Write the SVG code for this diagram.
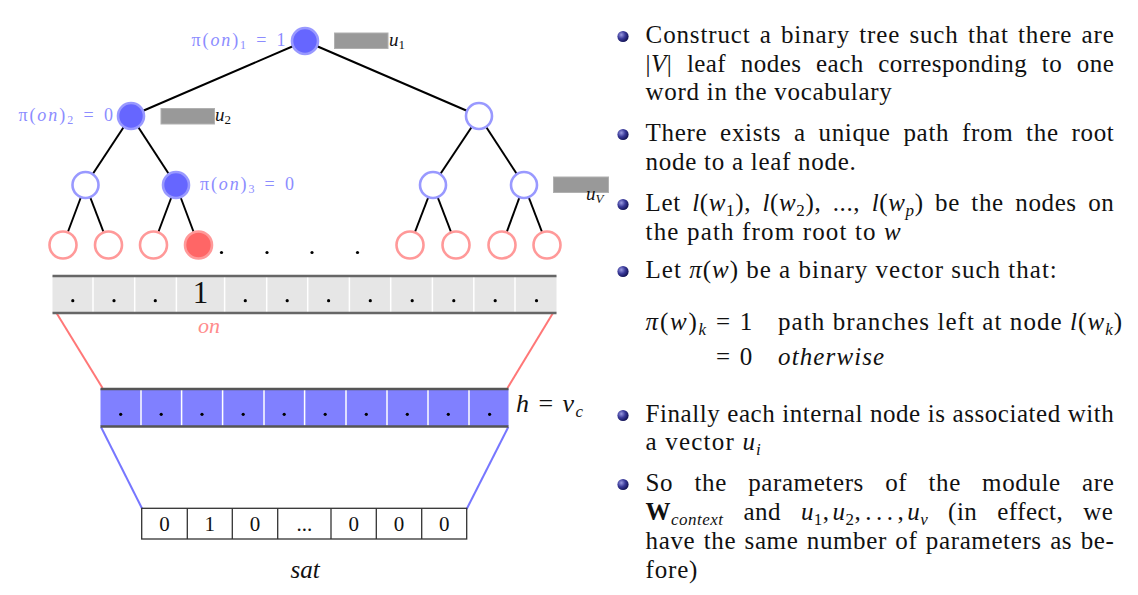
<svg xmlns="http://www.w3.org/2000/svg" width="1138" height="595" viewBox="0 0 1138 595">
<defs>
<radialGradient id="ball" cx="0.35" cy="0.35" r="0.7">
<stop offset="0" stop-color="#9a9ae0"/>
<stop offset="0.5" stop-color="#3a3a9a"/>
<stop offset="1" stop-color="#101050"/>
</radialGradient>
<style>
.edge{stroke:#000;stroke-width:2;fill:none}
.in{fill:#fff;stroke:#9999ff;stroke-width:2.6}
.inf{fill:#6666ff;stroke:#9999ff;stroke-width:2.6}
.leaf{fill:#fff;stroke:#ff9999;stroke-width:2.6}
.leaff{fill:#ff6666;stroke:#ff9999;stroke-width:2.6}
.ubox{fill:#999;stroke:#b0b0b0;stroke-width:1}
.lbl{font-family:"Liberation Serif",serif;font-size:18px;fill:#8c8cff;word-spacing:2px}
.ul{font-family:"Liberation Serif",serif;font-size:19px;fill:#111}
.us{font-size:13px}
.i{font-style:italic}
.b{font-weight:bold}
.dot{fill:#000}
.body{font-family:"Liberation Serif",serif;font-size:25px;fill:#111;letter-spacing:0.8px}
.sub{font-size:17px}
.cell{font-family:"Liberation Serif",serif;font-size:21px;fill:#111;text-anchor:middle}
.bullet{fill:url(#ball)}
</style>
</defs>

<g id="connectors">
<line class="edge" x1="305" y1="41" x2="131" y2="116"/>
<line class="edge" x1="305" y1="41" x2="479" y2="116"/>
<line class="edge" x1="131" y1="116" x2="85.5" y2="185"/>
<line class="edge" x1="131" y1="116" x2="176" y2="185"/>
<line class="edge" x1="479" y1="116" x2="433" y2="185"/>
<line class="edge" x1="479" y1="116" x2="524" y2="185"/>
<line class="edge" x1="85.5" y1="185" x2="63" y2="245"/>
<line class="edge" x1="85.5" y1="185" x2="108.5" y2="245"/>
<line class="edge" x1="176" y1="185" x2="153.5" y2="245"/>
<line class="edge" x1="176" y1="185" x2="198.5" y2="245"/>
<line class="edge" x1="433" y1="185" x2="410" y2="245"/>
<line class="edge" x1="433" y1="185" x2="456" y2="245"/>
<line class="edge" x1="524" y1="185" x2="502" y2="245"/>
<line class="edge" x1="524" y1="185" x2="547" y2="245"/>
<line x1="56.5" y1="313" x2="102.5" y2="388" stroke="#ff7777" stroke-width="2"/>
<line x1="553" y1="313" x2="507.5" y2="388" stroke="#ff7777" stroke-width="2"/>
<line x1="101" y1="427" x2="142.3" y2="509" stroke="#7777ff" stroke-width="2"/>
<line x1="508.3" y1="427" x2="466.7" y2="509" stroke="#7777ff" stroke-width="2"/>
</g>

<g id="root">
<circle class="inf" cx="305" cy="41" r="13"/>
<text class="lbl" x="191.6" y="46" textLength="94" lengthAdjust="spacing">π(<tspan class="i">on</tspan>)<tspan font-size="12" dy="3">1</tspan><tspan dy="-3"> = 1</tspan></text>
<rect class="ubox" x="334.5" y="33" width="53.5" height="15.5"/>
<text class="ul" x="389" y="46"><tspan class="i">u</tspan><tspan class="us" dy="3">1</tspan></text>
</g>

<g id="n2l">
<circle class="inf" cx="131" cy="116" r="13"/>
<text class="lbl" x="18.4" y="121" textLength="94.6" lengthAdjust="spacing">π(<tspan class="i">on</tspan>)<tspan font-size="12" dy="3">2</tspan><tspan dy="-3"> = 0</tspan></text>
<rect class="ubox" x="161" y="108.5" width="53.5" height="15.5"/>
<text class="ul" x="215" y="121"><tspan class="i">u</tspan><tspan class="us" dy="3">2</tspan></text>
</g>
<g id="n2r"><circle class="in" cx="479" cy="116" r="13"/></g>

<g id="n3a"><circle class="in" cx="85.5" cy="185" r="13"/></g>
<g id="n3b">
<circle class="inf" cx="176" cy="185" r="13"/>
<text class="lbl" x="200" y="190" textLength="94" lengthAdjust="spacing">π(<tspan class="i">on</tspan>)<tspan font-size="12" dy="3">3</tspan><tspan dy="-3"> = 0</tspan></text>
</g>
<g id="n3c"><circle class="in" cx="433" cy="185" r="13"/></g>
<g id="n3d">
<circle class="in" cx="524" cy="185" r="13"/>
<rect class="ubox" x="553.5" y="177" width="55" height="15.5"/>
<text class="ul" x="586" y="200"><tspan class="i">u</tspan><tspan class="us i" dy="3">V</tspan></text>
</g>

<g id="leaves">
<circle class="leaf" cx="63" cy="245" r="13.5"/>
<circle class="leaf" cx="108.5" cy="245" r="13.5"/>
<circle class="leaf" cx="153.5" cy="245" r="13.5"/>
<circle class="leaff" cx="198.5" cy="245" r="13.5"/>
<circle class="leaf" cx="410" cy="245" r="13.5"/>
<circle class="leaf" cx="456" cy="245" r="13.5"/>
<circle class="leaf" cx="502" cy="245" r="13.5"/>
<circle class="leaf" cx="547" cy="245" r="13.5"/>
<circle class="dot" cx="221.5" cy="252.5" r="1.6"/>
<circle class="dot" cx="267" cy="252.5" r="1.6"/>
<circle class="dot" cx="312" cy="252.5" r="1.6"/>
<circle class="dot" cx="357.5" cy="252.5" r="1.6"/>
</g>

<g id="onehot-output">
<rect x="52.5" y="276" width="504" height="37" fill="#e6e6e6"/>
<g stroke="#fff" stroke-width="1.5">
<line x1="93" y1="277" x2="93" y2="312"/><line x1="134.7" y1="277" x2="134.7" y2="312"/>
<line x1="176.4" y1="277" x2="176.4" y2="312"/><line x1="224.6" y1="277" x2="224.6" y2="312"/>
<line x1="266.7" y1="277" x2="266.7" y2="312"/><line x1="307.7" y1="277" x2="307.7" y2="312"/>
<line x1="349.4" y1="277" x2="349.4" y2="312"/><line x1="390.7" y1="277" x2="390.7" y2="312"/>
<line x1="432.4" y1="277" x2="432.4" y2="312"/><line x1="473.8" y1="277" x2="473.8" y2="312"/>
<line x1="515" y1="277" x2="515" y2="312"/>
</g>
<line x1="52.5" y1="276" x2="556.5" y2="276" stroke="#666" stroke-width="2.5"/>
<line x1="52.5" y1="313" x2="556.5" y2="313" stroke="#666" stroke-width="2.5"/>
<g class="dot">
<circle cx="72.8" cy="300.7" r="1.6"/><circle cx="114" cy="300.7" r="1.6"/><circle cx="155.3" cy="300.7" r="1.6"/>
<circle cx="245.3" cy="300.7" r="1.6"/><circle cx="287.2" cy="300.7" r="1.6"/><circle cx="328.6" cy="300.7" r="1.6"/>
<circle cx="370.3" cy="300.7" r="1.6"/><circle cx="412.2" cy="300.7" r="1.6"/><circle cx="453.8" cy="300.7" r="1.6"/>
<circle cx="495.2" cy="300.7" r="1.6"/><circle cx="536.5" cy="300.7" r="1.6"/>
</g>
<text x="200.5" y="303" font-family="Liberation Serif, serif" font-size="31" text-anchor="middle" fill="#111">1</text>
<text x="209" y="333" font-family="Liberation Serif, serif" font-size="22" font-style="italic" text-anchor="middle" fill="#ff8c8c">on</text>
</g>

<g id="hidden">
<rect x="100.5" y="389" width="408" height="37.5" fill="#8080ff"/>
<g stroke="#fff" stroke-width="1.5">
<line x1="141" y1="390" x2="141" y2="425.5"/><line x1="181.6" y1="390" x2="181.6" y2="425.5"/>
<line x1="222.6" y1="390" x2="222.6" y2="425.5"/><line x1="264" y1="390" x2="264" y2="425.5"/>
<line x1="304.6" y1="390" x2="304.6" y2="425.5"/><line x1="346" y1="390" x2="346" y2="425.5"/>
<line x1="387" y1="390" x2="387" y2="425.5"/><line x1="428" y1="390" x2="428" y2="425.5"/>
<line x1="469" y1="390" x2="469" y2="425.5"/>
</g>
<line x1="100.5" y1="389" x2="508.5" y2="389" stroke="#555" stroke-width="2.5"/>
<line x1="100.5" y1="426.5" x2="508.5" y2="426.5" stroke="#555" stroke-width="2.5"/>
<g class="dot">
<circle cx="120.7" cy="414.3" r="1.6"/><circle cx="161.2" cy="414.3" r="1.6"/><circle cx="202" cy="414.3" r="1.6"/>
<circle cx="243.2" cy="414.3" r="1.6"/><circle cx="284.2" cy="414.3" r="1.6"/><circle cx="325.2" cy="414.3" r="1.6"/>
<circle cx="366.3" cy="414.3" r="1.6"/><circle cx="407.3" cy="414.3" r="1.6"/><circle cx="448.3" cy="414.3" r="1.6"/>
<circle cx="489.6" cy="414.3" r="1.6"/>
</g>
<text x="516" y="411.5" font-family="Liberation Serif, serif" font-size="26" fill="#111" textLength="67" lengthAdjust="spacing"><tspan font-style="italic">h</tspan> = <tspan font-style="italic">v</tspan><tspan font-style="italic" font-size="17" dy="5">c</tspan></text>
</g>

<g id="input">
<rect x="141.7" y="508.3" width="325" height="30.7" fill="#fff" stroke="#333" stroke-width="1.3"/>
<g stroke="#333" stroke-width="1.3">
<line x1="187.3" y1="508.3" x2="187.3" y2="539"/><line x1="232.3" y1="508.3" x2="232.3" y2="539"/>
<line x1="277.7" y1="508.3" x2="277.7" y2="539"/><line x1="331" y1="508.3" x2="331" y2="539"/>
<line x1="376.3" y1="508.3" x2="376.3" y2="539"/><line x1="421.7" y1="508.3" x2="421.7" y2="539"/>
</g>
<text class="cell" x="164.5" y="531">0</text>
<text class="cell" x="209.8" y="531">1</text>
<text class="cell" x="255" y="531">0</text>
<text class="cell" x="304.3" y="531">...</text>
<text class="cell" x="353.7" y="531">0</text>
<text class="cell" x="399" y="531">0</text>
<text class="cell" x="444.2" y="531">0</text>
<text x="305" y="578" font-family="Liberation Serif, serif" font-size="25" font-style="italic" text-anchor="middle" fill="#111">sat</text>
</g>

<g id="bullets">
<circle class="bullet" cx="623" cy="36.5" r="5.6"/>
<circle class="bullet" cx="623" cy="134.5" r="5.6"/>
<circle class="bullet" cx="623" cy="204.5" r="5.6"/>
<circle class="bullet" cx="623" cy="271.5" r="5.6"/>
<circle class="bullet" cx="623" cy="415.5" r="5.6"/>
<circle class="bullet" cx="623" cy="484.5" r="5.6"/>
</g>

<g id="text">
<text class="body" x="645.6" y="43" textLength="469" lengthAdjust="spacing" style="word-spacing:2.1px">Construct a binary tree such that there are</text>
<text class="body" x="645.6" y="72" textLength="469" lengthAdjust="spacing" style="word-spacing:8px">|<tspan class="i">V</tspan>| leaf nodes each corresponding to one</text>
<text class="body" x="645.6" y="100" textLength="247" lengthAdjust="spacing">word in the vocabulary</text>
<text class="body" x="645.6" y="141" textLength="469" lengthAdjust="spacing" style="word-spacing:5.8px">There exists a unique path from the root</text>
<text class="body" x="645.6" y="170" textLength="211" lengthAdjust="spacing">node to a leaf node.</text>
<text class="body" x="645.6" y="211" textLength="469" lengthAdjust="spacing" style="word-spacing:4.6px">Let <tspan class="i">l</tspan>(<tspan class="i">w</tspan><tspan class="sub" dy="5">1</tspan><tspan dy="-5">),</tspan> <tspan class="i">l</tspan>(<tspan class="i">w</tspan><tspan class="sub" dy="5">2</tspan><tspan dy="-5">),</tspan> ..., <tspan class="i">l</tspan>(<tspan class="i">w</tspan><tspan class="sub i" dy="5">p</tspan><tspan dy="-5">)</tspan> be the nodes on</text>
<text class="body" x="645.6" y="240" textLength="256" lengthAdjust="spacing">the path from root to <tspan class="i">w</tspan></text>
<text class="body" x="645.6" y="278" textLength="412" lengthAdjust="spacing">Let <tspan class="i">π</tspan>(<tspan class="i">w</tspan>) be a binary vector such that:</text>
<text class="body" x="645.6" y="330" textLength="107.5" lengthAdjust="spacing"><tspan class="i">π</tspan>(<tspan class="i">w</tspan>)<tspan class="sub i" dy="5">k</tspan><tspan dy="-5"> = 1</tspan></text>
<text class="body" x="778" y="330" textLength="345" lengthAdjust="spacing">path branches left at node <tspan class="i">l</tspan>(<tspan class="i">w</tspan><tspan class="sub i" dy="5">k</tspan><tspan dy="-5">)</tspan></text>
<text class="body" x="716" y="365" textLength="37" lengthAdjust="spacing">= 0</text>
<text class="body i" x="778" y="365" textLength="107" lengthAdjust="spacing">otherwise</text>
<text class="body" x="645.6" y="422" textLength="469" lengthAdjust="spacing" style="word-spacing:0.3px">Finally each internal node is associated with</text>
<text class="body" x="645.6" y="450" textLength="116" lengthAdjust="spacing">a vector <tspan class="i">u</tspan><tspan class="sub i" dy="5">i</tspan></text>
<text class="body" x="645.6" y="491" textLength="469" lengthAdjust="spacing" style="word-spacing:14.4px">So the parameters of the module are</text>
<text class="body" x="645.6" y="520" textLength="468" lengthAdjust="spacing" style="word-spacing:13.2px"><tspan class="b">W</tspan><tspan class="sub i" dy="5">context</tspan><tspan dy="-5"> and </tspan><tspan class="i">u</tspan><tspan class="sub" dy="5">1</tspan><tspan dy="-5">,</tspan><tspan class="i" dx="3">u</tspan><tspan class="sub" dy="5">2</tspan><tspan dy="-5">,</tspan><tspan dx="4">.</tspan><tspan dx="4">.</tspan><tspan dx="4">.</tspan><tspan dx="4">,</tspan><tspan class="i" dx="3">u</tspan><tspan class="sub i" dy="5">v</tspan><tspan dy="-5"> (in effect, we</tspan></text>
<text class="body" x="645.6" y="549" textLength="469" lengthAdjust="spacing" style="word-spacing:1.6px">have the same number of parameters as be-</text>
<text class="body" x="645.6" y="578">fore)</text>
</g>
</svg>
